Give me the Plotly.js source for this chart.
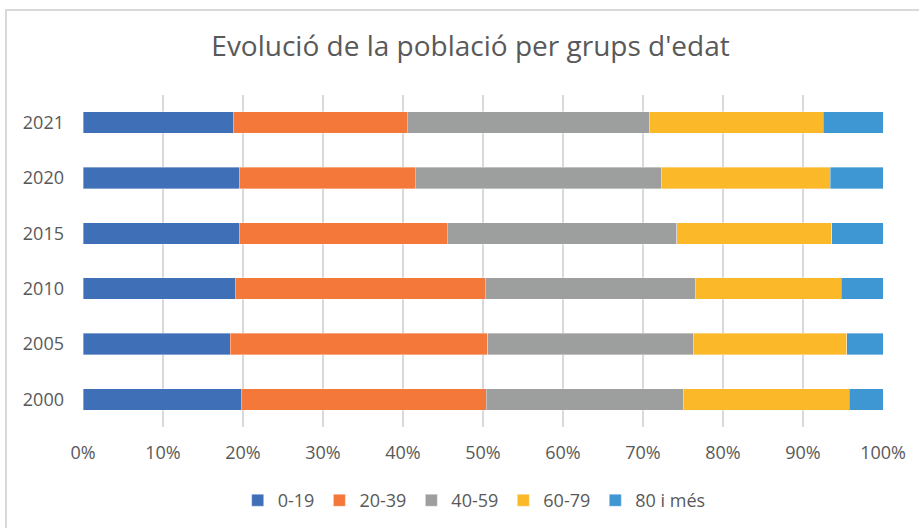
<!DOCTYPE html>
<html>
<head>
<meta charset="utf-8">
<script src="https://cdn.plot.ly/plotly-3.0.1.min.js"></script>
<style>
  html, body { margin: 0; padding: 0; background: #ffffff; }
  #frame { position: absolute; left: 5px; top: 9px; width: 930px; height: 540px; border: 2px solid #d9d9d9; box-sizing: border-box; }
  #chart { position: absolute; left: 0; top: 0; width: 919px; height: 528px; }
</style>
</head>
<body>
<div id="frame"></div>
<div id="chart"></div>
<script>
const years = ["2000", "2005", "2010", "2015", "2020", "2021"];
const seriesNames = ["0-19", "20-39", "40-59", "60-79", "80 i més"];
const age0_19  = [19.75, 18.4, 19.0, 19.5, 19.5, 18.8];
const age20_39 = [30.65, 32.2, 31.25, 26.0, 22.0, 21.7];
const age40_59 = [24.6, 25.7, 26.25, 28.7, 30.8, 30.25];
const age60_79 = [20.75, 19.15, 18.25, 19.4, 21.1, 21.75];
const age80    = [4.25, 4.55, 5.25, 6.4, 6.6, 7.5];
const xTickVals = [0, 10, 20, 30, 40, 50, 60, 70, 80, 90, 100];
const xTickText = ["0%", "10%", "20%", "30%", "40%", "50%", "60%", "70%", "80%", "90%", "100%"];

const colors = ["#3F6FB7", "#F4783A", "#9D9F9F", "#FBB829", "#3E96D2"];
const values = [age0_19, age20_39, age40_59, age60_79, age80];

const traces = values.map((v, i) => ({
  type: "bar",
  orientation: "h",
  name: seriesNames[i],
  y: years,
  x: v,
  marker: { color: colors[i], line: { width: 0.6, color: "rgba(255,255,255,0.6)" } },
  hoverinfo: "skip"
}));

const layout = {
  width: 919,
  height: 528,
  paper_bgcolor: "rgba(0,0,0,0)",
  plot_bgcolor: "rgba(0,0,0,0)",
  barmode: "stack",
  barnorm: "percent",
  bargap: 0.61,
  margin: { l: 83, r: 36, t: 95, b: 101, pad: 0 },
  font: { family: "Open Sans, sans-serif", color: "#595959", size: 18 },
  title: {
    text: "Evolució de la població per grups d'edat",
    font: { family: "Open Sans, sans-serif", size: 28, color: "#595959" },
    x: 0.512, xanchor: "center",
    y: 0.912, yanchor: "middle", xref: "container", yref: "container"
  },
  xaxis: {
    range: [0, 100],
    tickvals: xTickVals,
    ticktext: xTickText,
    showgrid: true,
    gridcolor: "#d9d9d9",
    gridwidth: 1.5,
    zeroline: false,
    showline: false,
    ticks: "",
    ticklabelstandoff: 13,
    tickfont: { size: 18, color: "#595959" },
    fixedrange: true
  },
  yaxis: {
    type: "category",
    categoryorder: "array",
    categoryarray: years,
    showgrid: false,
    zeroline: false,
    showline: false,
    ticks: "",
    ticklabelstandoff: 18,
    tickfont: { size: 18, color: "#595959" },
    fixedrange: true
  },
  showlegend: true,
  legend: {
    orientation: "h",
    xref: "container", yref: "container",
    x: 0.516, xanchor: "center",
    y: 0.052, yanchor: "middle",
    font: { size: 18, color: "#595959" },
    traceorder: "normal",
    itemwidth: 30
  }
};

Plotly.newPlot("chart", traces, layout, { displayModeBar: false, staticPlot: true });
</script>
</body>
</html>
